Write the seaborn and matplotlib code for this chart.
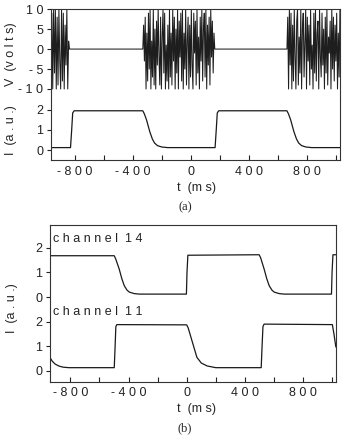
import numpy as np
import pandas as pd
import matplotlib
matplotlib.use("Agg")
import matplotlib.pyplot as plt
import seaborn as sns

sns.set_theme(style="ticks")
plt.rcParams['font.family'] = ['Liberation Sans', 'DejaVu Sans']
size = 9
ink = "#1a1a1a"

# ---------------- data ----------------
# (a) drive voltage: chaotic bursts separated by quiet (0 V) intervals
burst_spans = [(-965, -837), (-331, 166), (664, 1030)]
quiet_spans = [(-837, -331), (166, 664)]
burst1 = [0, 9, -10, 10, -6, 10, -10, 8, -9, 10, -3, -10, 10, -8, 9, -10, 6, -4, 10, -10, 2, 0]
burst2 = [0, 6, -3, 8, -10, 4, -8, 9, -5, 10, -10, 2, -7, 10, -9, 5, -10, 7, -4, 10,
          -2, -9, 8, -10, 3, 10, -6, 9, -10, 1, -8, 6, -10, 10, -7, 4, -9, 10, -3, 8,
          -10, 5, -6, 10, -10, 7, -2, 9, -8, 10, -10, 4, -5, 10, -9, 2, 8, -10, 6, -7,
          10, -4, -10, 9, -1, 7, -9, 10, -6, 3, -10, 8, -3, 10, -8, 5, 9, -7, 10, -10,
          6, -4, 8, -9, 10, -2, 7, -6, 4, 0]
burst3 = [0, 8, -10, 10, -4, 9, -10, 6, -8, 10, -2, -10, 7, 10, -9, 3, -6, 10, -10, 5,
          9, -7, 2, 10, -10, 8, -3, 6, -9, 10, -5, 1, -10, 9, -6, 10, -8, 4, 7, -10,
          10, -2, -7, 9, -4, 5, -10, 8, -6, 10, -9, 3, -1, 7, -10, 10, -5, 8, -8, 6,
          -3, 9, -10, 4, -7, 10]

# (a) light intensity
t_a = [-965, -830, -822, -815, -805, -331, -320, -305, -283, -265, -250, -230, -200, -160,
       168, 176, 183, 193, 664, 675, 690, 712, 730, 745, 765, 795, 835, 1030]
I_a = [0.12, 0.12, 1.0, 1.85, 1.96, 1.96, 1.8, 1.5, 0.92, 0.55, 0.35, 0.22, 0.15, 0.12,
       0.12, 1.0, 1.85, 1.96, 1.96, 1.8, 1.5, 0.92, 0.55, 0.35, 0.22, 0.15, 0.12, 0.12]

# (b) two channels, channel 14 drawn 3 units above channel 11
t_ch11 = [-940, -925, -905, -880, -850, -810, -498, -492, -487, -480, 0, 10, 35, 70, 100,
          140, 200, 512, 518, 524, 532, 1001, 1012, 1025]
ch11 = [0.55, 0.4, 0.28, 0.2, 0.15, 0.13, 0.13, 1.0, 1.8, 1.88, 1.87, 1.75, 1.25, 0.55,
        0.32, 0.2, 0.13, 0.13, 1.0, 1.8, 1.9, 1.88, 1.5, 0.97]
t_ch14 = [-940, -498, -488, -464, -446, -429, -410, -394, -360, -325, -2, 2, 8, 498, 508,
          532, 550, 567, 586, 602, 636, 671, 995, 999, 1005, 1025]
ch14 = [1.68, 1.68, 1.55, 1.14, 0.75, 0.46, 0.28, 0.2, 0.14, 0.12, 0.12, 1.0, 1.7, 1.72,
        1.6, 1.14, 0.75, 0.46, 0.28, 0.2, 0.14, 0.12, 0.12, 1.0, 1.72, 1.72]
offset14 = 3

x_major = [-800, -400, 0, 400, 800]
x_minor = [-600, -200, 200, 600, 1000]
x_labels = ["- 8 0 0", "- 4 0 0", "0", "4 0 0", "8 0 0"]
v_ticks = [10, 5, 0, -5, -10]
v_labels = ["1 0", "5", "0", "- 5", "- 1 0"]
i_ticks = [0, 1, 2]
b_ticks = [0, 1, 2, 3, 4, 5]
b_labels = ["0", "1", "2", "0", "1", "2"]

# ---------------- build tables ----------------
parts = []
for (t0, t1), vals in zip(burst_spans, [burst1, burst2, burst3]):
    parts.append(pd.DataFrame({"t": np.linspace(t0, t1, len(vals)), "V": vals}))
for t0, t1 in quiet_spans:
    parts.append(pd.DataFrame({"t": [t0, t1], "V": [0, 0]}))
volt = pd.concat(parts).sort_values("t", kind="stable")
inten = pd.DataFrame({"t": t_a, "I": I_a})
c11 = pd.DataFrame({"t": t_ch11, "I": ch11})
c14 = pd.DataFrame({"t": t_ch14, "I": np.array(ch14) + offset14})

# ---------------- figure ----------------
fig = plt.figure(figsize=(3.42, 4.36), dpi=100)
ax_v = fig.add_axes([0.149, 0.773, 0.845, 0.206])
ax_i = fig.add_axes([0.149, 0.633, 0.845, 0.140])
ax_b = fig.add_axes([0.146, 0.124, 0.836, 0.360])

sns.lineplot(data=volt, x="t", y="V", ax=ax_v, sort=False, estimator=None,
             color="#1e1e1e", lw=0.75)
sns.lineplot(data=inten, x="t", y="I", ax=ax_i, sort=False, estimator=None, color=ink, lw=0.9)
sns.lineplot(data=c11, x="t", y="I", ax=ax_b, sort=False, estimator=None, color=ink, lw=0.9)
sns.lineplot(data=c14, x="t", y="I", ax=ax_b, sort=False, estimator=None, color=ink, lw=0.9)

for ax in (ax_v, ax_i, ax_b):
    ax.set_xlabel("")
    ax.set_ylabel("")
    for sp in ax.spines.values():
        sp.set_visible(True)
        sp.set_linewidth(0.8)
        sp.set_color("#333333")
    ax.tick_params(axis="y", which="both", direction="out", length=3, width=0.8,
                   labelsize=size, pad=2.5, colors="#222222")
    ax.tick_params(axis="x", which="both", direction="in", length=3.5, width=0.8,
                   labelsize=size, pad=4, colors="#222222")

ax_v.set_xlim(-965, 1030)
ax_i.set_xlim(-965, 1030)
ax_b.set_xlim(-940, 1025)
ax_v.set_ylim(-12.5, 10)
ax_i.set_ylim(-0.5, 2.55)
ax_b.set_ylim(-0.45, 5.93)

ax_v.spines["bottom"].set_visible(False)
ax_i.spines["top"].set_visible(False)
ax_v.set_xticks([])
ax_v.set_yticks(v_ticks)
ax_v.set_yticklabels(v_labels)
ax_i.set_yticks(i_ticks)
ax_b.set_yticks(b_ticks)
ax_b.set_yticklabels(b_labels)
for ax in (ax_i, ax_b):
    ax.set_xticks(x_major)
    ax.set_xticklabels(x_labels)
    ax.set_xticks(x_minor, minor=True)

ax_b.text(-922, 2.4, "c h a n n e l  1 1", fontsize=size, va="center", ha="left", color="#222222")
ax_b.text(-922, 5.37, "c h a n n e l  1 4", fontsize=size, va="center", ha="left", color="#222222")

fig.text(0.032, 0.876, "V  (v o l t s)", rotation=90, ha="center", va="center", fontsize=size)
fig.text(0.032, 0.702, "I  (a . u .)", rotation=90, ha="center", va="center", fontsize=size)
fig.text(0.035, 0.294, "I  (a . u .)", rotation=90, ha="center", va="center", fontsize=size)
fig.text(0.576, 0.569, "t  (m s)", ha="center", va="center", fontsize=size)
fig.text(0.576, 0.062, "t  (m s)", ha="center", va="center", fontsize=size)
fig.text(0.541, 0.525, "(a)", ha="center", va="center", fontsize=size, family="Liberation Serif")
fig.text(0.541, 0.018, "(b)", ha="center", va="center", fontsize=size, family="Liberation Serif")

fig.savefig("out.png", dpi=100)
